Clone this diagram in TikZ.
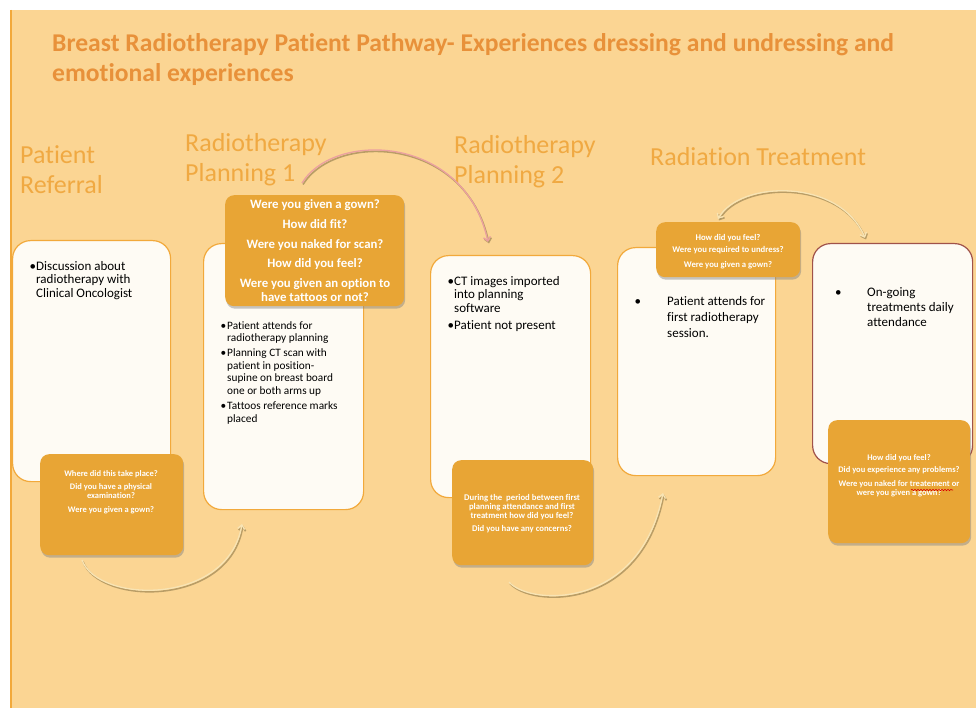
\documentclass[tikz,border=0pt]{standalone}
\usepackage{fontspec}
\setmainfont{Carlito}[Ligatures=NoCommon]
\usetikzlibrary{arrows.meta,shadows,decorations.pathmorphing}

\definecolor{pagebg}{HTML}{FBD593}
\definecolor{titlecol}{HTML}{E8913A}
\definecolor{headcol}{HTML}{F0A942}
\definecolor{boxline}{HTML}{F2A93B}
\definecolor{boxfill}{HTML}{FEFBF4}
\definecolor{askfill}{HTML}{E8A535}
\definecolor{lastline}{HTML}{A0524A}
\definecolor{arrowcol}{HTML}{F8E4B4}
\definecolor{arrowshade}{HTML}{8E7848}
\definecolor{pinkcol}{HTML}{EBA0A0}

\tikzset{
  stagebox/.style={draw=boxline, line width=1.2pt, fill=boxfill, rounded corners=18pt, anchor=north west, inner sep=0pt},
  askbox/.style={fill=askfill, rounded corners=9pt, anchor=north west, inner sep=0pt,
    drop shadow={shadow xshift=1pt, shadow yshift=-2.5pt, opacity=.45}},
  headtext/.style={text=headcol, font=\fontsize{26}{30}\selectfont, align=left, anchor=north west, inner sep=0pt},
  bodytext/.style={text=black, align=left, anchor=north west, inner sep=0pt},
  asktext/.style={text=white, align=center, anchor=north, inner sep=0pt},
  flow/.style={line width=1.3pt, draw=arrowcol, -{Straight Barb[length=4pt,width=7pt]}},
  flowshade/.style={line width=1.6pt, draw=arrowshade, opacity=.6, -{Straight Barb[length=4pt,width=7pt]},
    transform canvas={shift={(1pt,-1.5pt)}}},
}

\begin{document}
\begin{tikzpicture}[x=1pt, y=-1pt]
        \useasboundingbox (0,0) rectangle (976,708);
        % Background
        \fill[white] (0,0) rectangle (976,708);
        \fill[pagebg] (11,10) rectangle (976,708);
        \draw[boxline, line width=1.5pt] (11,10) -- (11,708);

        % Title
        \node[anchor=north west, inner sep=0pt, text=titlecol, align=left,
              font=\fontsize{25.6}{30}\selectfont\bfseries] (title) at (52,33)
              {Breast Radiotherapy Patient Pathway- Experiences dressing and undressing and\\emotional experiences};

        % Stage headings
        \node[headtext] (hreferral) at (20,145) {Patient\\Referral};
        \node[headtext] (hplan1) at (185,133) {Radiotherapy\\Planning 1};
        \node[headtext] (hplan2) at (454,135) {Radiotherapy\\Planning 2};
        \node[headtext] (htreat) at (650,147) {Radiation Treatment};

        % Stage boxes
        \node[stagebox, minimum width=158pt, minimum height=241pt] (referral) at (12,240) {};
        \node[stagebox, minimum width=160pt, minimum height=266pt] (plan1) at (203,243) {};
        \node[stagebox, minimum width=160pt, minimum height=242pt] (plan2) at (430,255) {};
        \node[stagebox, minimum width=158pt, minimum height=228pt] (treat) at (617,247) {};
        \node[stagebox, draw=lastline, minimum width=160pt, minimum height=220pt] (ongoing) at (812,243) {};

        % Question boxes
        \node[askbox, minimum width=143pt, minimum height=101pt] (askref) at (40,454) {};
        \node[askbox, minimum width=179pt, minimum height=111pt] (askplan1) at (225,195) {};
        \node[askbox, minimum width=141pt, minimum height=105pt] (askplan2) at (452,460) {};
        \node[askbox, minimum width=144pt, minimum height=55pt] (asktreat) at (656,222) {};
        \node[askbox, minimum width=142pt, minimum height=123pt] (askgoing) at (828,420) {};

        % Stage texts
        \node[bodytext, font=\fontsize{13}{13.5}\selectfont] (txtref) at (36,261)
            {\llap{•}Discussion about\\radiotherapy with\\Clinical Oncologist};
        \node[bodytext, font=\fontsize{11.3}{12.6}\selectfont] (txtplan1) at (227,321)
            {\llap{•\hspace{1pt}}Patient attends for\\radiotherapy planning\\[2.5pt]
             \llap{•\hspace{1pt}}Planning CT scan with\\patient in position-\\supine on breast board\\one or both arms up\\[2.5pt]
             \llap{•\hspace{1pt}}Tattoos reference marks\\placed};
        \node[bodytext, font=\fontsize{13}{13.5}\selectfont] (txtplan2) at (454,276)
            {\llap{•}CT images imported\\into planning\\software\\[3.5pt]\llap{•}Patient not present};
        \node[bodytext, font=\fontsize{13}{16}\selectfont] (txttreat) at (667,296)
            {\llap{•\hspace{26pt}}Patient attends for\\first radiotherapy\\session.};
        \node[bodytext, font=\fontsize{13}{15}\selectfont] (txtgoing) at (867,287)
            {\llap{•\hspace{25.5pt}}On-going\\treatments daily\\attendance};

        % Question texts
        \node[asktext, font=\fontsize{8.5}{9}\selectfont\bfseries] (qref) at (111,470)
            {Where did this take place?\\[4pt]Did you have a physical\\examination?\\[5pt]Were you given a gown?};
        \node[asktext, font=\fontsize{12.8}{14}\selectfont\bfseries] (qplan1) at (315,199)
            {Were you given a gown?\\[6pt]How did fit?\\[6pt]Were you naked for scan?\\[5pt]How did you feel?\\[6pt]Were you given an option to\\have tattoos or not?};
        \node[asktext, font=\fontsize{8.7}{9}\selectfont\bfseries] (qplan2) at (522,494)
            {During the \ period between first\\planning attendance and first\\treatment how did you feel?\\[4pt]Did you have any concerns?};
        \node[asktext, font=\fontsize{8.7}{9.5}\selectfont\bfseries] (qtreat) at (728,234)
            {How did you feel?\\[3pt]Were you required to undress?\\[5pt]Were you given a gown?};
        \node[asktext, font=\fontsize{8.5}{9.5}\selectfont\bfseries] (qgoing) at (899,454)
            {How did you feel?\\[2.5pt]Did you experience any problems?\\[4.5pt]Were you naked for treatement or\\were you given a gown?};
        \draw[red!85!black, line width=0.6pt, decorate, decoration={snake, amplitude=0.7pt, segment length=3pt}]
            (911,490) -- (953,490);

        % Curved arrows
        \coordinate (a1s) at (82,560);  \coordinate (a1e) at (242,524);
        \coordinate (a2s) at (302,183); \coordinate (a2e) at (488,242);
        \coordinate (a3s) at (509,582); \coordinate (a3e) at (663,493);
        \coordinate (a4s) at (718,219); \coordinate (a4e) at (865,238);

        \draw[flowshade] (a1s) .. controls (98,604) and (228,606) .. (a1e);
        \draw[flow] (a1s) .. controls (98,604) and (228,606) .. (a1e);

        \draw[flowshade] (a2s) .. controls (335,130) and (465,135) .. (a2e);
        \draw[flow, draw=pinkcol] (a2s) .. controls (335,130) and (465,135) .. (a2e);

        \draw[flowshade] (a3s) .. controls (530,606) and (640,610) .. (a3e);
        \draw[flow] (a3s) .. controls (530,606) and (640,610) .. (a3e);

        \draw[flowshade, {Straight Barb[length=4pt,width=7pt]}-{Straight Barb[length=4pt,width=7pt]}]
            (a4s) .. controls (740,180) and (840,178) .. (a4e);
        \draw[flow, {Straight Barb[length=4pt,width=7pt]}-{Straight Barb[length=4pt,width=7pt]}]
            (a4s) .. controls (740,180) and (840,178) .. (a4e);
\end{tikzpicture}
\end{document}
